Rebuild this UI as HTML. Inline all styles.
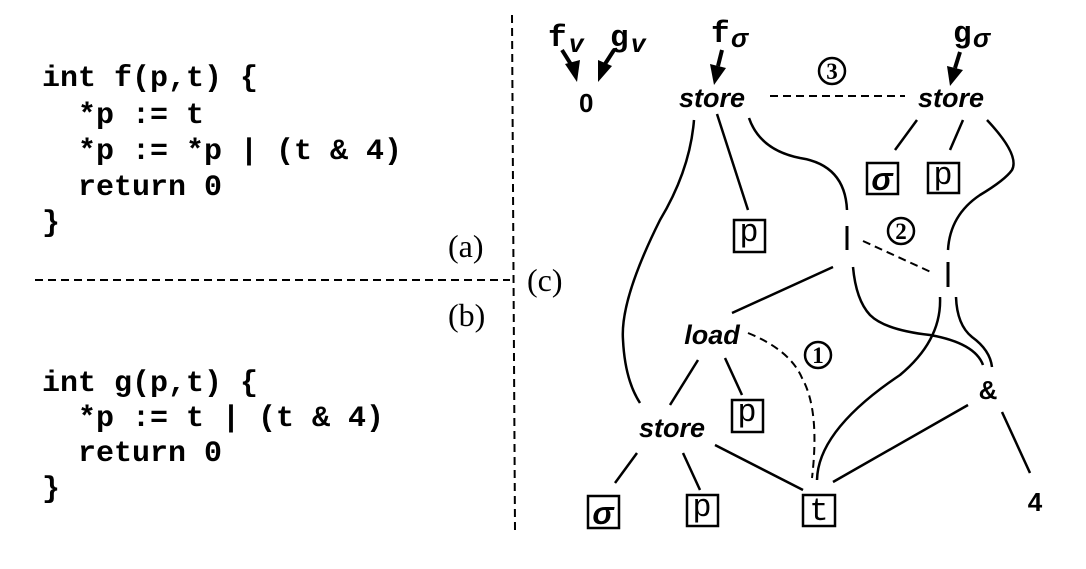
<!DOCTYPE html>
<html><head><meta charset="utf-8"><style>
html,body{margin:0;padding:0;background:#fff;}
svg{display:block;}
.code{font-family:"Liberation Mono",monospace;font-weight:bold;font-size:30px;}
.lab{font-family:"Liberation Serif",serif;font-size:32px;}
.op{font-family:"Liberation Sans",sans-serif;font-weight:bold;font-style:italic;font-size:27px;}
.num{font-family:"Liberation Sans",sans-serif;font-weight:bold;font-size:26px;}
.bx{font-family:"Liberation Mono",monospace;font-size:32px;}
</style></head><body>
<svg width="1086" height="569" viewBox="0 0 1086 569" xmlns="http://www.w3.org/2000/svg">
<g class="code" fill="#000">
<text x="42" y="86" xml:space="preserve">int f(p,t) {</text>
<text x="42" y="123" xml:space="preserve">  *p := t</text>
<text x="42" y="159" xml:space="preserve">  *p := *p | (t &amp; 4)</text>
<text x="42" y="195" xml:space="preserve">  return 0</text>
<text x="42" y="231" xml:space="preserve">}</text>
<text x="42" y="391" xml:space="preserve">int g(p,t) {</text>
<text x="42" y="426" xml:space="preserve">  *p := t | (t &amp; 4)</text>
<text x="42" y="461" xml:space="preserve">  return 0</text>
<text x="42" y="497" xml:space="preserve">}</text>
</g>
<text class="lab" x="448" y="257">(a)</text>
<text class="lab" x="448" y="326">(b)</text>
<text class="lab" x="527" y="291">(c)</text>
<g stroke="#000" stroke-width="2" stroke-dasharray="8,5" fill="none">
<line x1="35" y1="280" x2="510" y2="280"/>
<line x1="512" y1="15" x2="515" y2="530"/>
<line x1="770" y1="96" x2="905" y2="96"/>
<line x1="863" y1="241" x2="933" y2="273"/>
<path d="M748 333 Q790 350 802 378 Q820 410 812 478"/>
</g>
<!-- top labels -->
<g class="bx" font-weight="bold">
<text x="548" y="46" font-size="31">f</text><text x="569" y="52" class="num" font-style="italic" font-size="21">v</text>
<text x="610" y="46" font-size="31">g</text><text x="631" y="52" class="num" font-style="italic" font-size="21">v</text>
<text x="711" y="42" font-size="31">f</text><text x="731" y="47" class="num" font-style="italic" font-size="21">σ</text>
<text x="953" y="42" font-size="31">g</text><text x="973" y="47" class="num" font-style="italic" font-size="21">σ</text>
</g>
<text class="num" x="579" y="112">0</text>
<!-- arrows -->
<g stroke="#000" stroke-width="4" fill="#000">
<line x1="562" y1="50" x2="572" y2="66"/><polygon points="565,64 580,60 577,82" stroke="none"/>
<line x1="614" y1="50" x2="605" y2="64"/><polygon points="598,60 612,66 598,82" stroke="none"/>
<line x1="722" y1="50" x2="718" y2="66"/><polygon points="710,64 726,68 714,85" stroke="none"/>
<line x1="960" y1="52" x2="955" y2="68"/><polygon points="947,66 963,70 950,86" stroke="none"/>
</g>
<!-- circled numbers -->
<g stroke="#000" stroke-width="2.5" fill="none">
<circle cx="832" cy="71" r="13"/><circle cx="901" cy="231" r="13"/><circle cx="818" cy="355" r="13"/>
</g>
<g font-family="Liberation Serif,serif" font-size="23" font-weight="bold" text-anchor="middle">
<text x="832" y="79">3</text><text x="901" y="239">2</text><text x="818" y="363">1</text>
</g>
<!-- nodes -->
<g class="op" text-anchor="middle">
<text x="712" y="107">store</text>
<text x="951" y="107">store</text>
<text x="712" y="344">load</text>
<text x="672" y="437">store</text>
</g>
<g stroke="#000" stroke-width="3">
<line x1="847" y1="226" x2="847" y2="250"/>
<line x1="948" y1="262" x2="948" y2="287"/>
</g>
<g font-family="Liberation Sans,sans-serif" font-weight="bold" font-size="26" text-anchor="middle">
<text x="988" y="399">&amp;</text>
<text x="1035" y="511">4</text>
</g>
<!-- boxes -->
<g stroke="#000" stroke-width="2.5" fill="none">
<rect x="867" y="163" width="31" height="31"/>
<rect x="928" y="163" width="31" height="30"/>
<rect x="734" y="220" width="31" height="32"/>
<rect x="732" y="400" width="31" height="32"/>
<rect x="588" y="496" width="31" height="32"/>
<rect x="687" y="495" width="31" height="31"/>
<rect x="803" y="495" width="32" height="31"/>
</g>
<g class="bx" text-anchor="middle">
<text x="882" y="190" font-family="Liberation Sans,sans-serif" font-weight="bold" font-style="italic" font-size="32">σ</text>
<text x="943" y="184">p</text>
<text x="749" y="241">p</text>
<text x="747" y="421">p</text>
<text x="603" y="524" font-family="Liberation Sans,sans-serif" font-weight="bold" font-style="italic" font-size="32">σ</text>
<text x="702" y="516">p</text>
<text x="819" y="520">t</text>
</g>
<!-- edges -->
<g stroke="#000" stroke-width="2.5" fill="none">
<path d="M694 120 Q690 170 660 220 Q620 300 623 340 Q625 380 640 403"/>
<line x1="717" y1="114" x2="748" y2="210"/>
<path d="M749 118 Q760 150 800 158 Q845 165 847 210"/>
<line x1="917" y1="120" x2="895" y2="150"/>
<line x1="963" y1="120" x2="950" y2="150"/>
<path d="M987 120 Q1020 155 1012 170 Q1005 180 980 195 Q950 215 948 250"/>
<line x1="833" y1="267" x2="732" y2="313"/>
<path d="M853 267 Q856 300 870 315 Q885 330 930 335 Q975 343 983 365"/>
<path d="M940 297 Q942 340 900 375 Q818 430 817 480"/>
<path d="M956 297 Q957 325 972 337 Q990 350 992 367"/>
<line x1="698" y1="360" x2="670" y2="405"/>
<line x1="725" y1="358" x2="742" y2="395"/>
<line x1="637" y1="453" x2="615" y2="483"/>
<line x1="683" y1="453" x2="700" y2="490"/>
<line x1="715" y1="445" x2="803" y2="490"/>
<line x1="968" y1="405" x2="833" y2="482"/>
<line x1="1002" y1="412" x2="1030" y2="473"/>
</g>
</svg>
</body></html>
